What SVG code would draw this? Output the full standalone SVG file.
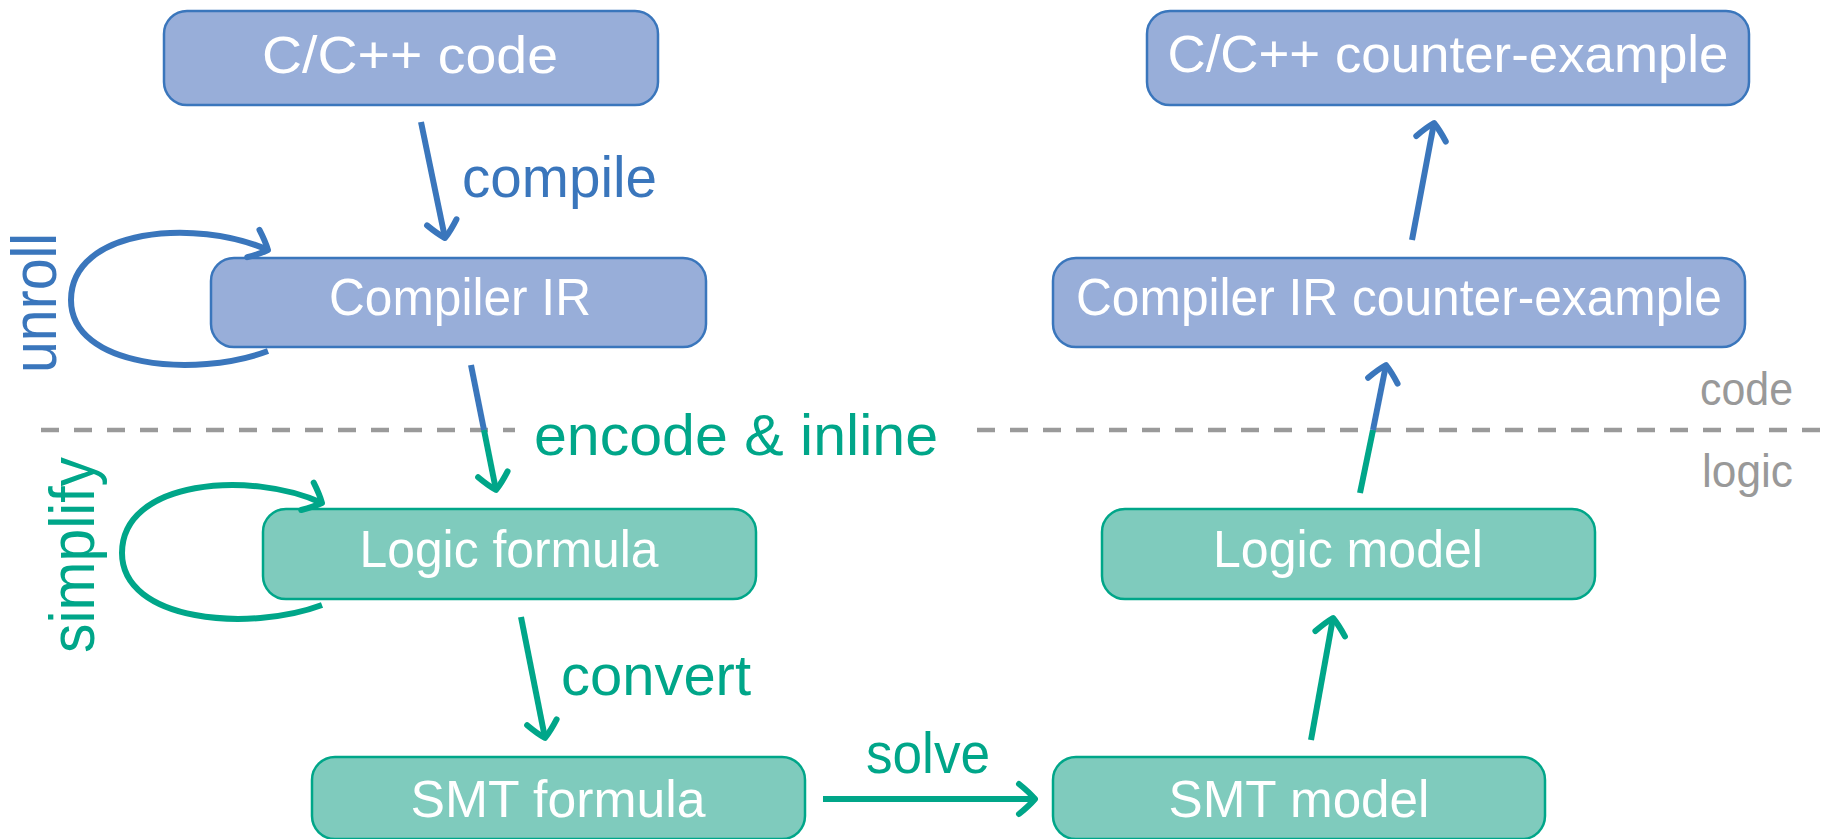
<svg xmlns="http://www.w3.org/2000/svg" width="1825" height="839" viewBox="0 0 1825 839">
<style>
  .bn rect { fill: #98aed9; stroke: #3a76bc; stroke-width: 2.5; }
  .tn rect { fill: #7fcbbd; stroke: #00a689; stroke-width: 2.5; }
  .nt { fill: #ffffff; font-family: "Liberation Sans", Arial, sans-serif; font-size: 52px; text-anchor: middle; }
  .lbl { font-family: "Liberation Sans", Arial, sans-serif; font-size: 58px; }
  .rot { font-size: 63px; }
  .bl { fill: #3a76bc; }
  .tl { fill: #00a689; }
  .gl { fill: #999999; font-family: "Liberation Sans", Arial, sans-serif; font-size: 46px; }
  .eb { fill: none; stroke: #3a76bc; stroke-width: 6; }
  .et { fill: none; stroke: #00a689; stroke-width: 6; }
  .dash { stroke: #9a9a9a; stroke-width: 4.5; stroke-dasharray: 18 15; fill: none; }
</style>
<defs>
  <marker id="ab" markerUnits="userSpaceOnUse" orient="auto" refX="0" refY="0" markerWidth="40" markerHeight="40" overflow="visible">
    <path d="M -16,-15 Q -6,-7 0,0 Q -6,7 -16,15" fill="none" stroke="#3a76bc" stroke-width="6" stroke-linecap="round" stroke-linejoin="round"/>
  </marker>
  <marker id="at" markerUnits="userSpaceOnUse" orient="auto" refX="0" refY="0" markerWidth="40" markerHeight="40" overflow="visible">
    <path d="M -16,-15 Q -6,-7 0,0 Q -6,7 -16,15" fill="none" stroke="#00a689" stroke-width="6" stroke-linecap="round" stroke-linejoin="round"/>
  </marker>
</defs>

<g id="separator">
  <path class="dash" d="M 41,430 L 515,430"/>
  <path class="dash" d="M 977,430 L 1825,430"/>
  <text class="gl" x="1700" y="405" textLength="93" lengthAdjust="spacingAndGlyphs">code</text>
  <text class="gl" x="1702" y="487" textLength="91" lengthAdjust="spacingAndGlyphs">logic</text>
</g>

<g id="node-c-code" class="bn">
  <rect x="164" y="11" width="494" height="94" rx="23"/>
  <text class="nt" x="410" y="73" textLength="296" lengthAdjust="spacingAndGlyphs">C/C++ code</text>
</g>
<g id="node-compiler-ir" class="bn">
  <rect x="211" y="258" width="495" height="89" rx="23"/>
  <text class="nt" x="460" y="315" textLength="262" lengthAdjust="spacingAndGlyphs">Compiler IR</text>
</g>
<g id="node-c-cex" class="bn">
  <rect x="1147" y="11" width="602" height="94" rx="23"/>
  <text class="nt" x="1448" y="72" textLength="561" lengthAdjust="spacingAndGlyphs">C/C++ counter-example</text>
</g>
<g id="node-ir-cex" class="bn">
  <rect x="1053" y="258" width="692" height="89" rx="23"/>
  <text class="nt" x="1399" y="315" textLength="646" lengthAdjust="spacingAndGlyphs">Compiler IR counter-example</text>
</g>
<g id="node-logic-formula" class="tn">
  <rect x="263" y="509" width="493" height="90" rx="23"/>
  <text class="nt" x="509" y="567" textLength="299" lengthAdjust="spacingAndGlyphs">Logic formula</text>
</g>
<g id="node-logic-model" class="tn">
  <rect x="1102" y="509" width="493" height="90" rx="23"/>
  <text class="nt" x="1348" y="567" textLength="270" lengthAdjust="spacingAndGlyphs">Logic model</text>
</g>
<g id="node-smt-formula" class="tn">
  <rect x="312" y="757" width="493" height="82" rx="23"/>
  <text class="nt" x="558" y="817" textLength="295" lengthAdjust="spacingAndGlyphs">SMT formula</text>
</g>
<g id="node-smt-model" class="tn">
  <rect x="1053" y="757" width="492" height="82" rx="23"/>
  <text class="nt" x="1299" y="817" textLength="261" lengthAdjust="spacingAndGlyphs">SMT model</text>
</g>

<g id="connectors">
  <path class="eb" d="M 421,122 L 445,238" marker-end="url(#ab)"/>
  <text class="lbl bl" x="462" y="197" textLength="195" lengthAdjust="spacingAndGlyphs">compile</text>

  <path class="eb" d="M 268,351 C 196,378 71,368 71,300 C 71,228 196,218 268,250" marker-end="url(#ab)"/>
  <text class="lbl rot bl" transform="translate(56,373) rotate(-90)" x="0" y="0" textLength="140" lengthAdjust="spacingAndGlyphs">unroll</text>

  <path class="eb" d="M 471,365 L 484,430"/>
  <path class="et" d="M 484,430 L 496,490" marker-end="url(#at)"/>
  <text class="lbl tl" x="534" y="455" textLength="404" lengthAdjust="spacingAndGlyphs">encode &amp; inline</text>

  <path class="et" d="M 322,605 C 250,632 122,622 122,553 C 122,480 250,470 322,503" marker-end="url(#at)"/>
  <text class="lbl rot tl" transform="translate(94,653) rotate(-90)" x="0" y="0" textLength="196" lengthAdjust="spacingAndGlyphs">simplify</text>

  <path class="et" d="M 521,617 L 545,738" marker-end="url(#at)"/>
  <text class="lbl tl" x="561" y="695" textLength="190" lengthAdjust="spacingAndGlyphs">convert</text>

  <path class="et" d="M 823,799 L 1035,799" marker-end="url(#at)"/>
  <text class="lbl tl" x="866" y="773" textLength="124" lengthAdjust="spacingAndGlyphs">solve</text>

  <path class="et" d="M 1311,740 L 1333,618" marker-end="url(#at)"/>

  <path class="et" d="M 1360,493 L 1373,430"/>
  <path class="eb" d="M 1373,430 L 1386,365" marker-end="url(#ab)"/>

  <path class="eb" d="M 1412,240 L 1434,123" marker-end="url(#ab)"/>
</g>
</svg>
